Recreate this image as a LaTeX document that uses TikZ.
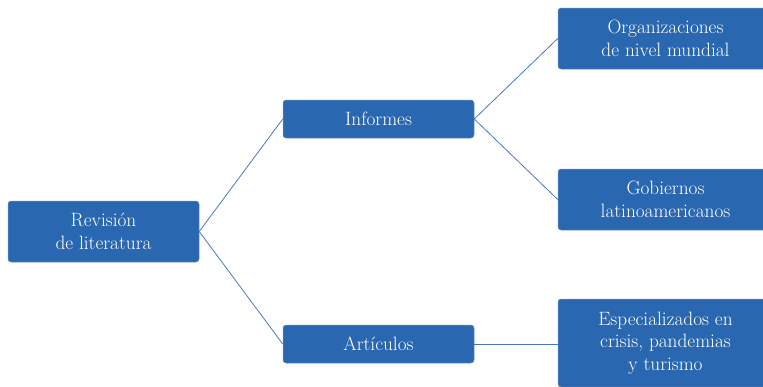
\documentclass[tikz,border=0pt]{standalone}
\definecolor{boxblue}{HTML}{2A67B1}
\definecolor{edgeblue}{HTML}{4A78BE}
\begin{document}
\begin{tikzpicture}[x=1pt,y=-1pt,
  nodebox/.style={rectangle, rounded corners=3pt, fill=boxblue, draw=boxblue!70!white, line width=0.5pt,
    text=white, align=center, inner sep=0pt,
    font=\fontsize{19.3}{22.5}\selectfont},
  conn/.style={draw=edgeblue, line width=0.8pt}]
\useasboundingbox (0,0) rectangle (763,386);
\clip (0,0) rectangle (763,386);
\node[nodebox, minimum width=191pt, minimum height=61pt] (rev) at (103.5,231.5) {Revisión\\de literatura};
\node[nodebox, minimum width=191pt, minimum height=38pt] (inf) at (378.5,119) {Informes};
\node[nodebox, minimum width=191pt, minimum height=38pt] (art) at (378.5,344) {Artículos};
\node[nodebox, minimum width=215pt, minimum height=61pt] (org) at (665.5,38.5) {Organizaciones\\de nivel mundial};
\node[nodebox, minimum width=215pt, minimum height=61pt] (gob) at (665.5,199.5) {Gobiernos\\latinoamericanos};
\node[nodebox, minimum width=215pt, minimum height=88pt] (esp) at (665.5,343) {Especializados en\\crisis, pandemias\\y turismo};
\draw[conn] (rev.east) -- (inf.west);
\draw[conn] (rev.east) -- (art.west);
\draw[conn] (inf.east) -- (org.west);
\draw[conn] (inf.east) -- (gob.west);
\draw[conn] (art.east) -- (esp.west |- art.east);
\end{tikzpicture}
\end{document}
